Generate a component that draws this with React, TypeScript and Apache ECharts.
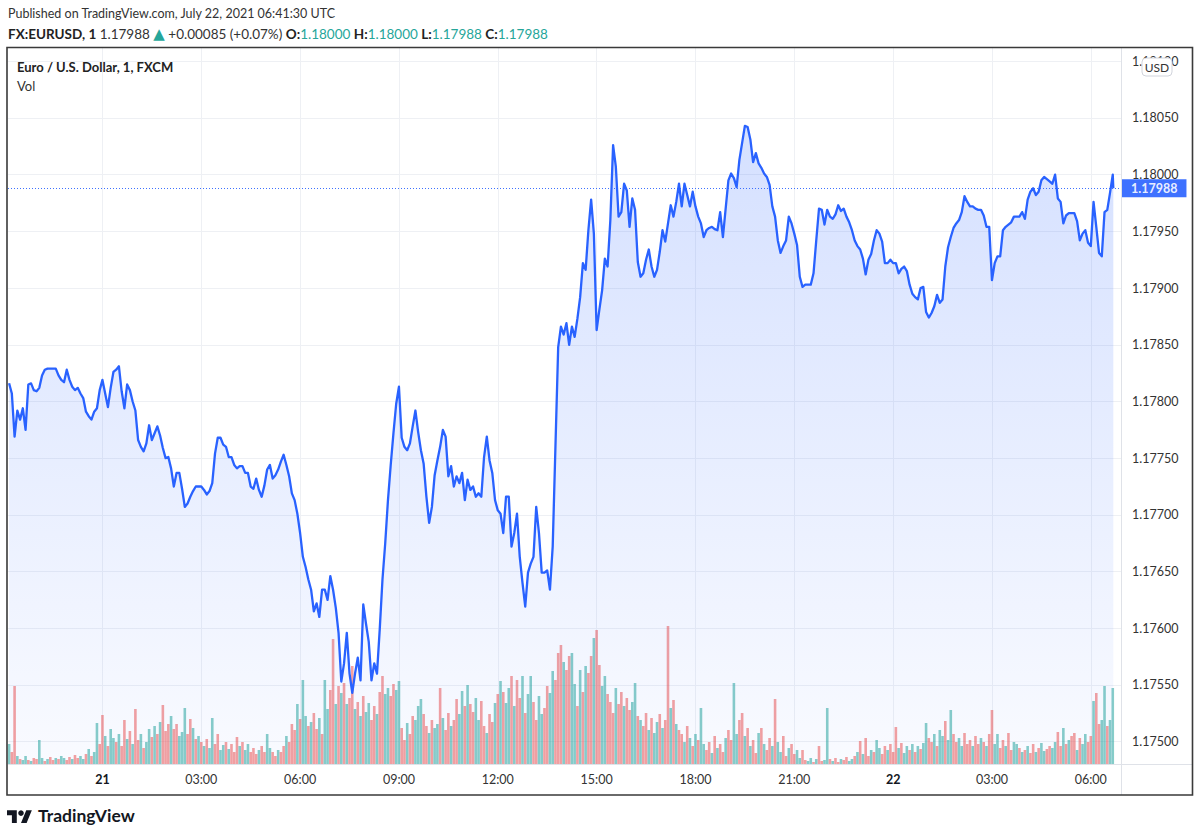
import React, { useEffect, useRef } from "react";
import * as echarts from "echarts";

// ---- time layout (minutes from 2021-07-21 00:00 UTC) ----
const PRICE_START_MIN = -170; // 20 Jul 21:10 UTC
const PRICE_STEP_MIN = 5;
const LAST_MIN = 1841; // 22 Jul 06:41 UTC
const LAST_CLOSE = 1.17988;

const prices = [
  1.17816, 1.17807, 1.17769, 1.17792, 1.17784, 1.17794, 1.17775, 1.17815, 1.17816, 1.1781,
  1.17809, 1.17812, 1.17823, 1.17828, 1.17829, 1.17829, 1.17829, 1.17829, 1.17823, 1.17819,
  1.17817, 1.17828, 1.17819, 1.17813, 1.1781, 1.17812, 1.17807, 1.17803, 1.17791, 1.17787,
  1.17784, 1.17791, 1.17794, 1.1781, 1.17819, 1.17807, 1.17795, 1.17812, 1.17826, 1.17828,
  1.17831, 1.17809, 1.17794, 1.17815, 1.1781, 1.178, 1.17792, 1.17766, 1.1776, 1.17756,
  1.17763, 1.17779, 1.17766, 1.17772, 1.17778, 1.1777, 1.17759, 1.1775, 1.17751, 1.17741,
  1.17725, 1.17737, 1.17737, 1.17723, 1.17707, 1.1771, 1.17716, 1.17721, 1.17725, 1.17725,
  1.17725, 1.17722, 1.17718, 1.17721, 1.17728, 1.17754, 1.17768, 1.17768, 1.17762, 1.1776,
  1.17751, 1.17751, 1.17744, 1.17741, 1.17743, 1.17743, 1.17737, 1.17737, 1.17725, 1.17723,
  1.17732, 1.17722, 1.17716, 1.17726, 1.1774, 1.17744, 1.17732, 1.17735, 1.1774, 1.17747,
  1.17753, 1.17744, 1.17734, 1.17719, 1.17713, 1.17701, 1.17684, 1.17663, 1.17654, 1.17643,
  1.17634, 1.17615, 1.17622, 1.1761, 1.17634, 1.17634, 1.17625, 1.17646, 1.17634, 1.17618,
  1.17596, 1.17553, 1.17569, 1.17596, 1.1756, 1.17543, 1.1756, 1.17574, 1.17554, 1.17621,
  1.17604, 1.17588, 1.17554, 1.17569, 1.1756, 1.17599, 1.17643, 1.17675, 1.17713, 1.17744,
  1.17772, 1.17798, 1.17813, 1.17768, 1.1776, 1.17757, 1.17763, 1.17778, 1.17792, 1.17773,
  1.17757, 1.17745, 1.17716, 1.17693, 1.17707, 1.17735, 1.17748, 1.1776, 1.17775, 1.17769,
  1.17734, 1.17743, 1.17725, 1.17734, 1.17728, 1.17737, 1.17713, 1.17731, 1.17722, 1.17725,
  1.17716, 1.17719, 1.17716, 1.17751, 1.17769, 1.17748, 1.17737, 1.17713, 1.17704, 1.17701,
  1.17684, 1.17716, 1.17716, 1.17672, 1.17684, 1.17701, 1.17663, 1.1764, 1.17619, 1.17649,
  1.17657, 1.17663, 1.17707, 1.17684, 1.17649, 1.17649, 1.17651, 1.17634, 1.17672, 1.1776,
  1.17848, 1.17866, 1.17859, 1.17869, 1.1785, 1.17866, 1.17857, 1.17873, 1.17892, 1.17922,
  1.17916, 1.17951, 1.17978, 1.17948, 1.17863, 1.17881, 1.17898, 1.17926, 1.17919, 1.1796,
  1.18026, 1.18007, 1.17963, 1.17967, 1.17992, 1.17986, 1.17954, 1.17979, 1.17969, 1.17923,
  1.1791, 1.17913, 1.17925, 1.17934, 1.17919, 1.1791, 1.17916, 1.17932, 1.17951, 1.17941,
  1.17957, 1.17973, 1.17963, 1.17976, 1.17992, 1.17972, 1.17992, 1.17982, 1.17972, 1.17985,
  1.17972, 1.17963, 1.17957, 1.17945, 1.17951, 1.17953, 1.17954, 1.17952, 1.17951, 1.17967,
  1.17945, 1.1797, 1.17995, 1.18001, 1.17997, 1.17989, 1.18013, 1.18028, 1.18043, 1.18042,
  1.18031, 1.18011, 1.18019, 1.1801, 1.18006, 1.18001, 1.17998, 1.17991, 1.17972, 1.17963,
  1.17942, 1.17931, 1.17937, 1.17942, 1.17963, 1.17957, 1.17948, 1.17938, 1.1791, 1.17901,
  1.17903, 1.17903, 1.17903, 1.17913, 1.17942, 1.1797, 1.17969, 1.17956, 1.17969, 1.17963,
  1.17961, 1.17965, 1.17973, 1.17968, 1.1797, 1.17963, 1.17958, 1.17951, 1.17942, 1.17937,
  1.17934, 1.17926, 1.17912, 1.17925, 1.1793, 1.17942, 1.17951, 1.17948, 1.17941, 1.17922,
  1.17922, 1.17925, 1.17922, 1.17922, 1.17913, 1.17917, 1.17919, 1.17915, 1.17903, 1.17895,
  1.17892, 1.1789, 1.179, 1.17901, 1.17879, 1.17874, 1.17878, 1.17884, 1.17894, 1.17887,
  1.1789, 1.17919, 1.17936, 1.17945, 1.17953, 1.17957, 1.1796, 1.17967, 1.17981, 1.17976,
  1.17972, 1.17972, 1.1797, 1.17969, 1.17969, 1.17964, 1.17954, 1.17954, 1.17907, 1.17922,
  1.17928, 1.17928, 1.17951, 1.17954, 1.17956, 1.17958, 1.17963, 1.17963, 1.17963, 1.17967,
  1.17961, 1.17978, 1.17985, 1.17988, 1.17982, 1.17985, 1.17995, 1.17998, 1.17996, 1.17994,
  1.17992, 1.18, 1.17979, 1.17976, 1.17957, 1.17964, 1.17966, 1.17966, 1.17966, 1.17959,
  1.17942, 1.17948, 1.17951, 1.1794, 1.17937, 1.17976, 1.17954, 1.17931, 1.17928, 1.17967,
  1.17969, 1.17984, 1.18,
];

// Volume, every 5 minutes (bar heights)
const VOL_START_MIN = -170;
const VOL_STEP_MIN = 5;
const volumes = [
  20, 12, 78, 8, 5, 4, 8, 4, 3, 6,
  5, 24, 6, 3, 5, 7, 4, 6, 5, 8,
  6, 4, 7, 5, 9, 6, 8, 5, 10, 15,
  8, 12, 41, 20, 49, 28, 18, 35, 26, 22,
  30, 18, 44, 25, 33, 20, 55, 24, 30, 16,
  22, 35, 27, 38, 30, 42, 59, 33, 40, 48,
  35, 40, 28, 32, 56, 30, 45, 36, 25, 28,
  22, 18, 25, 16, 46, 20, 30, 14, 19, 22,
  15, 20, 12, 27, 18, 22, 14, 20, 12, 16,
  10, 14, 18, 12, 30, 16, 12, 8, 14, 12,
  18, 28, 22, 40, 34, 60, 45, 84, 48, 38,
  42, 51, 35, 46, 30, 84, 55, 74, 125, 60,
  78, 71, 81, 60, 66, 98, 55, 62, 48, 68,
  52, 61, 44, 58, 50, 72, 88, 70, 76, 68,
  80, 74, 83, 36, 24, 41, 30, 48, 44, 58,
  65, 50, 38, 31, 44, 36, 40, 76, 46, 34,
  51, 38, 44, 65, 50, 73, 58, 79, 60, 52,
  66, 44, 63, 38, 31, 50, 42, 61, 70, 83,
  72, 61, 76, 88, 58, 84, 66, 88, 51, 70,
  88, 62, 44, 68, 50, 56, 78, 71, 93, 84,
  111, 119, 102, 94, 108, 111, 80, 58, 94, 72,
  98, 91, 108, 126, 134, 99, 78, 88, 70, 62,
  51, 76, 60, 72, 58, 66, 54, 62, 81, 48,
  44, 38, 51, 34, 46, 31, 42, 50, 36, 44,
  138, 56, 64, 40, 34, 30, 22, 38, 26, 18,
  30, 24, 56, 20, 14, 22, 11, 28, 16, 20,
  12, 26, 34, 24, 81, 30, 44, 51, 28, 36,
  18, 24, 11, 31, 36, 20, 14, 26, 18, 65,
  22, 12, 28, 8, 16, 20, 10, 14, 6, 14,
  4, 3, 6, 2, 5, 18, 3, 4, 56, 5,
  3, 6, 2, 5, 4, 7, 3, 5, 8, 12,
  23, 10, 26, 8, 14, 12, 24, 16, 10, 18,
  14, 20, 12, 37, 16, 21, 11, 18, 14, 20,
  12, 18, 15, 21, 41, 26, 22, 30, 18, 34,
  28, 43, 24, 54, 30, 22, 26, 18, 31, 20,
  24, 18, 28, 20, 26, 22, 18, 30, 54, 20,
  30, 16, 24, 18, 31, 14, 22, 20, 16, 12,
  14, 18, 11, 20, 12, 16, 21, 13, 15, 18,
  16, 22, 32, 18, 36, 20, 24, 28, 31, 14,
  26, 20, 30, 22, 28, 63, 71, 40, 44, 78,
  38, 44, 76,
];
// candle direction of each volume bar: u = up (teal), d = down (red)
const volDir =
  "udduduudud" + "duududdudu" + "uddudduudu" + "duudduduud" + "uddududdud" +
  "uudududddu" + "dduuuddudu" + "duduudduud" + "uddduduudd" + "dudduuddud" +
  "duddduduud" + "udduduuddu" + "dududdudud" + "uuddudduud" + "duuddudduu" +
  "udduduudud" + "dudduududd" + "uudduddudu" + "duududdudu" + "udduudduud" +
  "ddudduudud" + "uddudduudd" + "duddudduud" + "udduduudud" + "dududdudud" +
  "uduuddudud" + "dudduuddud" + "uddududdud" + "uuddudduud" + "duududduud" +
  "uddudduudu" + "dudduduudd" + "uddduduudu" + "duduuddudu" + "uduudduudd" +
  "duddududdu" + "uddudduudu" + "dudduduudd" + "uuddududdu" + "duuddudduu" +
  "duu";

// axis ticks
const timeTicks = [0, 180, 360, 540, 720, 900, 1080, 1260, 1440, 1620, 1800];
const dayLabels: Record<number, string> = { 0: "21", 1440: "22" };
const priceTicks = [
  1.175, 1.1755, 1.176, 1.1765, 1.177, 1.1775, 1.178, 1.1785, 1.179, 1.1795, 1.18, 1.1805, 1.181,
];

const X_MIN = -172;
const X_MAX = 1855;
const Y_MIN = 1.174803;
const Y_MAX = 1.181117;
const VOL_AXIS_MAX = 716;

const BLUE = "#2962ff";
const TEAL = "rgba(38,166,154,0.55)";
const RED = "rgba(239,83,80,0.55)";
const TEXT = "#333333";
const FONT = "Lato, 'Open Sans', sans-serif";

const TV_LOGO_PATH = "M14 22H7V11H0V4h14v18zM28 22h-8l7.5-18h8L28 22z";

export default function App() {
  const ref = useRef<HTMLDivElement>(null);

  useEffect(() => {
    document.body.style.margin = "0";
    if (!ref.current) return;
    echarts.graphic.registerShape("tvlogo", echarts.graphic.extendPath(TV_LOGO_PATH, {}) as any);
    const chart = echarts.init(ref.current, undefined, { renderer: "svg" });

    const priceData = prices.map((p, i) => [PRICE_START_MIN + i * PRICE_STEP_MIN, p]);
    priceData.push([LAST_MIN, LAST_CLOSE]);

    const volData = volumes.map((v, j) => ({
      value: [VOL_START_MIN + j * VOL_STEP_MIN, v],
      itemStyle: { color: volDir[j] === "u" ? TEAL : RED },
    }));

    const option: any = {
      animation: false,
      backgroundColor: "#ffffff",
      textStyle: { fontFamily: FONT },
      grid: { left: 8, right: 79, top: 48, bottom: 73, containLabel: false },
      xAxis: {
        type: "value",
        min: X_MIN,
        max: X_MAX,
        axisLine: { show: false },
        axisTick: { show: false, customValues: timeTicks },
        splitLine: { show: true, lineStyle: { color: "#eef0f4", width: 1 } },
        axisLabel: {
          customValues: timeTicks,
          margin: 9,
          fontSize: 12.5,
          color: TEXT,
          fontFamily: FONT,
          formatter: (v: number) => {
            if (dayLabels[v] !== undefined) return "{d|" + dayLabels[v] + "}";
            const h = Math.round((((v % 1440) + 1440) % 1440) / 60);
            return String(h).padStart(2, "0") + ":00";
          },
          rich: { d: { fontWeight: "bold", fontSize: 12.5, color: "#131722", fontFamily: FONT } },
        },
      },
      yAxis: [
        {
          type: "value",
          position: "right",
          min: Y_MIN,
          max: Y_MAX,
          scale: true,
          axisLine: { show: false },
          axisTick: { show: false, customValues: priceTicks },
          splitLine: { show: true, lineStyle: { color: "#eef0f4", width: 1 } },
          axisLabel: {
            customValues: priceTicks,
            margin: 11,
            fontSize: 12.5,
            color: TEXT,
            fontFamily: FONT,
            hideOverlap: false,
            formatter: (v: number) => v.toFixed(5),
          },
        },
        {
          type: "value",
          min: 0,
          max: VOL_AXIS_MAX,
          show: false,
          splitLine: { show: false },
        },
      ],
      series: [
        {
          name: "Vol",
          type: "bar",
          xAxisIndex: 0,
          yAxisIndex: 1,
          data: volData,
          barWidth: 2.6,
          silent: true,
          z: 2,
        },
        {
          name: "EURUSD",
          type: "line",
          xAxisIndex: 0,
          yAxisIndex: 0,
          data: priceData,
          showSymbol: false,
          symbol: "none",
          silent: true,
          z: 3,
          lineStyle: { color: BLUE, width: 2.3, join: "round" },
          areaStyle: {
            color: new echarts.graphic.LinearGradient(0, 0, 0, 1, [
              { offset: 0, color: "rgba(41,98,255,0.28)" },
              { offset: 1, color: "rgba(41,98,255,0.04)" },
            ]),
          },
          markLine: {
            silent: true,
            symbol: "none",
            animation: false,
            precision: 5,
            lineStyle: { color: BLUE, type: [1, 2], width: 1, opacity: 0.9 },
            label: {
              show: true,
              position: "end",
              distance: 0,
              formatter: () => LAST_CLOSE.toFixed(5),
              backgroundColor: BLUE,
              color: "#ffffff",
              fontWeight: "bold",
              fontSize: 12.5,
              fontFamily: FONT,
              padding: [3, 9, 2, 10],
            },
            data: [{ yAxis: LAST_CLOSE }],
          },
        },
      ],
      graphic: [
        // header
        {
          type: "text",
          left: 8,
          top: 7,
          style: {
            text: "Published on TradingView.com, July 22, 2021 06:41:30 UTC",
            fill: TEXT,
            font: "12.5px " + FONT,
          },
        },
        {
          type: "text",
          left: 8,
          top: 26,
          style: {
            text:
              "{b|FX:EURUSD, 1} {n|1.17988} {t|▲} {n|+0.00085 (+0.07%)} {b|O:}{g|1.18000} {b|H:}{g|1.18000} {b|L:}{g|1.17988} {b|C:}{g|1.17988}",
            fill: TEXT,
            font: "13.5px " + FONT,
            rich: {
              b: { fontWeight: "bold", fontSize: 13.5, fill: "#222", fontFamily: FONT },
              n: { fontSize: 13.5, fill: TEXT, fontFamily: FONT },
              g: { fontSize: 13.5, fill: "#26a69a", fontFamily: FONT },
              t: { fontSize: 15, fill: "#26a69a", fontFamily: "'DejaVu Sans', sans-serif" },
            },
          },
        },
        // frame
        {
          type: "rect",
          shape: { x: 7, y: 47.5, width: 1185.5, height: 747.5 },
          style: { fill: "none", stroke: "#3a3a3a", lineWidth: 1.6 },
          z: 10,
        },
        // pane separators
        {
          type: "line",
          shape: { x1: 1121.5, y1: 48, x2: 1121.5, y2: 795 },
          style: { stroke: "#dfe2e8", lineWidth: 1 },
          z: 9,
        },
        {
          type: "line",
          shape: { x1: 8, y1: 764.5, x2: 1192, y2: 764.5 },
          style: { stroke: "#dfe2e8", lineWidth: 1 },
          z: 9,
        },
        // legend
        {
          type: "text",
          left: 17,
          top: 60,
          style: {
            text: "Euro / U.S. Dollar, 1, FXCM",
            fill: "#222",
            font: "bold 13px " + FONT,
          },
          z: 11,
        },
        {
          type: "text",
          left: 17,
          top: 79,
          style: { text: "Vol", fill: TEXT, font: "13px " + FONT },
          z: 11,
        },
        // currency badge
        {
          type: "rect",
          shape: { x: 1142, y: 58, width: 30, height: 18, r: 4 },
          style: { fill: "#ffffff", stroke: "#d1d4dc", lineWidth: 1 },
          z: 11,
        },
        {
          type: "text",
          x: 1157,
          y: 67.5,
          style: {
            text: "USD",
            fill: TEXT,
            font: "12px " + FONT,
            align: "center",
            verticalAlign: "middle",
          },
          z: 12,
        },
        // TradingView logo
        {
          type: "tvlogo",
          x: 7,
          y: 807.5,
          scaleX: 0.7,
          scaleY: 0.7,
          style: { fill: "#131722" },
          z: 11,
        },
        {
          type: "circle",
          shape: { cx: 7 + 20 * 0.7, cy: 807.5 + 8 * 0.7, r: 4 * 0.7 },
          style: { fill: "#131722" },
          z: 11,
        },
        {
          type: "text",
          left: 38,
          top: 806,
          style: { text: "TradingView", fill: "#131722", font: "bold 17.5px " + FONT },
          z: 11,
        },
      ],
    };

    chart.setOption(option);
    return () => chart.dispose();
  }, []);

  return <div ref={ref} style={{ width: 1200, height: 837, background: "#fff" }} />;
}
